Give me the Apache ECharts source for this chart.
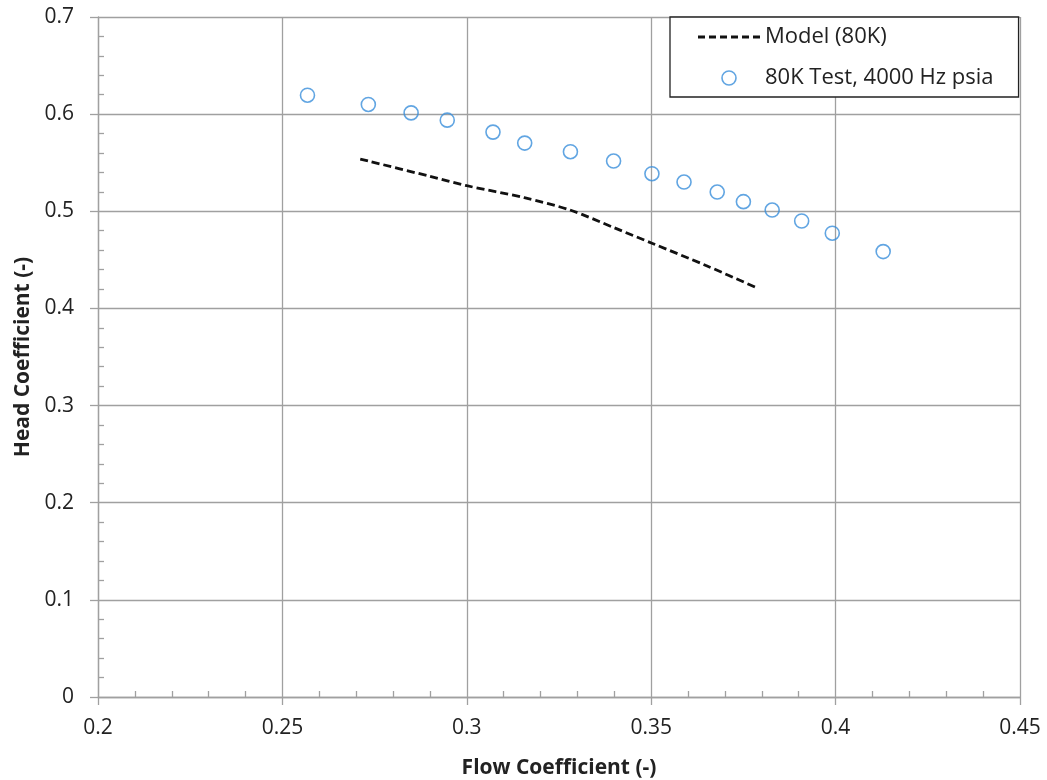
<!DOCTYPE html>
<html><head><meta charset="utf-8">
<script src="https://cdn.jsdelivr.net/npm/echarts@6/dist/echarts.min.js"></script>
<style>html,body{margin:0;padding:0;background:#fff}#c{width:1047px;height:780px}</style>
</head><body><div id="c"></div>
<script>
var testX = [0.2568,0.2733,0.2849,0.2947,0.3071,0.3157,0.3281,0.3398,0.3502,0.3589,0.3679,0.3750,0.3828,0.3908,0.3991,0.4129];
var testY = [0.6195,0.6100,0.6013,0.5938,0.5815,0.5702,0.5613,0.5517,0.5387,0.5301,0.5198,0.5099,0.5013,0.4900,0.4774,0.4585];
var modelX = [0.2711,0.2900,0.3000,0.3156,0.3280,0.3400,0.3502,0.3650,0.3790];
var modelY = [0.5538,0.5360,0.5263,0.5140,0.5013,0.4830,0.4671,0.4440,0.4205];
var seriesNames = ['Model (80K)','80K Test, 4000 Hz psia'];
var xTitle = 'Flow Coefficient (-)';
var yTitle = 'Head Coefficient (-)';

var FONT = '"Open Sans", sans-serif';
var GRID = '#a0a0a0';
var BLUE = '#3a8edb';
function pairs(xs, ys){ return xs.map(function(x,i){return [x, ys[i]];}); }
var dashIcon = 'path://M0,0h7v3h-7z M11,0h7v3h-7z M22,0h7v3h-7z M33,0h7v3h-7z M44,0h7v3h-7z M55,0h7v3h-7z';

var chart = echarts.init(document.getElementById('c'));
var fmt = function(v){ return String(+v.toFixed(2)); };
chart.setOption({
  backgroundColor:'#fff',
  animation:false,
  grid:{left:98,right:27,top:17,bottom:83,containLabel:false,outerBoundsMode:'none'},
  legend:{
    left:670, top:17, orient:'vertical',
    padding:[9,25,8,28], itemGap:19, itemWidth:62, itemHeight:14,
    borderColor:'#222', borderWidth:1.3, borderRadius:0, backgroundColor:'#fff',
    textStyle:{fontFamily:FONT,fontSize:22,color:'#222'},
    data:[
      {name:seriesNames[0], icon:dashIcon, itemStyle:{color:'#111',borderWidth:0}},
      {name:seriesNames[1], icon:'circle', itemStyle:{color:'rgba(255,255,255,0)',borderColor:BLUE,borderWidth:1.6}}
    ]
  },
  xAxis:[{
    type:'value', min:0.2, max:0.45, interval:0.05, position:'bottom',
    axisLine:{show:true,onZero:false,lineStyle:{color:GRID,width:1.3}},
    axisTick:{show:true,inside:false,length:8,lineStyle:{color:GRID,width:1.3}},
    splitLine:{show:true,lineStyle:{color:GRID,width:1.3}},
    axisLabel:{margin:21,fontFamily:FONT,fontSize:21,color:'#222',formatter:fmt},
    name:xTitle, nameLocation:'middle', nameGap:61,
    nameTextStyle:{fontFamily:FONT,fontSize:21,fontWeight:'bold',color:'#222'}
  },{
    type:'value', min:0.2, max:0.45, interval:0.05, position:'bottom',
    axisLine:{show:false,onZero:false},
    axisTick:{show:false,inside:true},
    minorTick:{show:true,splitNumber:5,length:6,lineStyle:{color:GRID,width:1.3}},
    axisLabel:{show:false}, splitLine:{show:false}
  }],
  yAxis:[{
    type:'value', min:0, max:0.7, interval:0.1, position:'left',
    axisLine:{show:true,onZero:false,lineStyle:{color:GRID,width:1.3}},
    axisTick:{show:true,inside:false,length:8,lineStyle:{color:GRID,width:1.3}},
    splitLine:{show:true,lineStyle:{color:GRID,width:1.3}},
    axisLabel:{margin:24,fontFamily:FONT,fontSize:21,color:'#222',formatter:fmt},
    name:yTitle, nameLocation:'middle', nameGap:64,
    nameTextStyle:{fontFamily:FONT,fontSize:21,fontWeight:'bold',color:'#222'}
  },{
    type:'value', min:0, max:0.7, interval:0.1, position:'left',
    axisLine:{show:false,onZero:false},
    axisTick:{show:false,inside:true},
    minorTick:{show:true,splitNumber:5,length:6,lineStyle:{color:GRID,width:1.3}},
    axisLabel:{show:false}, splitLine:{show:false}
  }],
  series:[{
    name:seriesNames[0], type:'line', xAxisIndex:0, yAxisIndex:0,
    data:pairs(modelX, modelY), smooth:0.3, showSymbol:false, symbol:'none',
    lineStyle:{color:'#111',width:2.8,type:[8,4]}, itemStyle:{color:'#111'}
  },{
    name:seriesNames[1], type:'scatter', xAxisIndex:0, yAxisIndex:0,
    data:pairs(testX, testY), symbol:'circle', symbolSize:14,
    itemStyle:{color:'rgba(255,255,255,0)',borderColor:BLUE,borderWidth:1.6}
  }]
});
</script></body></html>
